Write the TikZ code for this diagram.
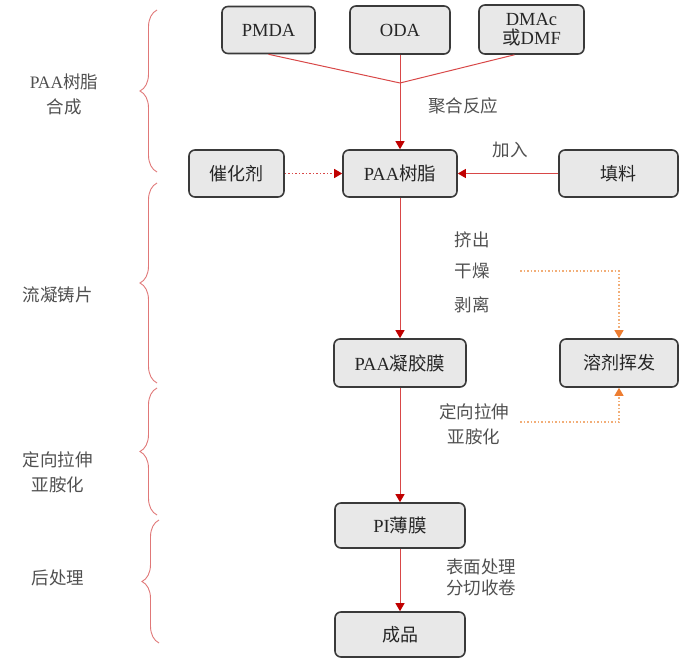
\documentclass[tikz,border=0pt]{standalone}
\usepackage{fontspec}
\setmainfont{Liberation Serif}
\newfontfamily\cjk{Noto Sans CJK SC}
\usetikzlibrary{arrows.meta,decorations.pathreplacing,calc}
\definecolor{boxline}{HTML}{3A3A3A}
\definecolor{boxfill}{HTML}{E8E8E8}
\definecolor{boxtext}{HTML}{262626}
\definecolor{lbltext}{HTML}{505050}
\definecolor{flowred}{HTML}{D84848}
\definecolor{headred}{HTML}{C00000}
\definecolor{dotorange}{HTML}{F2AE78}
\definecolor{headorange}{HTML}{ED7D31}
\definecolor{bracered}{HTML}{E07878}
\begin{document}
\begin{tikzpicture}[x=1pt,y=-1pt,
  box/.style={draw=boxline, fill=boxfill, line width=1.6pt, rounded corners=6pt,
    text=boxtext, font=\fontsize{18.5}{19}\selectfont, align=center, inner sep=0pt},
  cbox/.style={box, font=\fontsize{18}{19}\selectfont\cjk},
  lbl/.style={text=lbltext, font=\fontsize{17.5}{19}\selectfont\cjk, align=center, inner sep=0pt},
  flow/.style={draw=flowred, line width=1pt, -{Triangle[width=9pt,length=8pt,color=headred]}},
  plainline/.style={draw=flowred, line width=1pt},
  dotflow/.style={draw=flowred, line width=1.2pt, dash pattern=on 1.5pt off 2pt,
    -{Triangle[width=9pt,length=8pt,color=headred]}},
  orangeflow/.style={draw=dotorange, line width=1.2pt, dash pattern=on 1.5pt off 2pt,
    -{Triangle[width=9pt,length=8pt,color=headorange]}},
  bracestyle/.style={draw=bracered, line width=0.9pt, decorate,
    decoration={brace, amplitude=17pt}},
  sidelbl/.style={text=lbltext, font=\fontsize{17.5}{25}\selectfont, align=center, inner sep=0pt}
]
\useasboundingbox (0,0) rectangle (686,658);

% boxes
\node[box, minimum width=93pt, minimum height=47pt] (pmda) at (268.5,30) {PMDA};
\node[box, minimum width=100pt, minimum height=48pt] (oda) at (400,30) {ODA};
\node[box, minimum width=105pt, minimum height=49pt, font=\fontsize{18.5}{19}\selectfont] (dmac) at (531.5,29.5) {DMAc\\{\cjk 或}DMF};
\node[box, minimum width=114pt, minimum height=47pt] (paa) at (400,173.5) {PAA{\cjk 树脂}};
\node[cbox, minimum width=95pt, minimum height=47pt] (cat) at (236.5,173.5) {催化剂};
\node[cbox, minimum width=119pt, minimum height=47pt] (fill) at (618.5,173.5) {填料};
\node[box, minimum width=132pt, minimum height=48pt] (gel) at (400,363) {PAA{\cjk 凝胶膜}};
\node[cbox, minimum width=118pt, minimum height=48pt] (solv) at (619,363) {溶剂挥发};
\node[box, minimum width=130pt, minimum height=45pt] (pi) at (400,525.5) {PI{\cjk 薄膜}};
\node[cbox, minimum width=130pt, minimum height=45pt] (prod) at (400,634.5) {成品};

% junction
\coordinate (j) at (400,83);
\coordinate (dmacout) at ($(dmac.south west)!0.34!(dmac.south east)$);
\draw[plainline] (pmda.south) -- (j);
\draw[plainline] (oda.south) -- (j);
\draw[plainline] (dmacout) -- (j);
\draw[flow] (j) -- (paa.north);

% side inputs
\draw[dotflow] (cat.east) -- (paa.west);
\draw[flow] (fill.west) -- (paa.east);

% main flow
\draw[flow] (paa.south) -- (gel.north);
\draw[flow] (gel.south) -- (pi.north);
\draw[flow] (pi.south) -- (prod.north);

% labels
\node[lbl] (l1) at (463,106) {聚合反应};
\node[lbl] (l2) at (510,150) {加入};
\node[lbl] (l3) at (472,240) {挤出};
\node[lbl] (l4) at (472,271) {干燥};
\node[lbl] (l5) at (472,305) {剥离};
\node[lbl] (l6) at (474,412) {定向拉伸};
\node[lbl] (l7) at (474,437) {亚胺化};
\node[lbl] (l8) at (481,567) {表面处理};
\node[lbl] (l9) at (481,588) {分切收卷};

% solvent evaporation
\coordinate (o1) at (520,271);
\coordinate (o2) at (520,422);
\draw[orangeflow] (o1) -| (solv.north);
\draw[orangeflow] (o2) -| (solv.south);

% braces
\draw[bracestyle] (157,172) -- (157,10);
\draw[bracestyle] (157,383) -- (157,183);
\draw[bracestyle] (157,515) -- (157,388);
\draw[bracestyle] (159,643) -- (159,520);

% stage labels
\node[sidelbl] (s1) at (64,94) {PAA{\cjk 树脂}\\{\cjk 合成}};
\node[sidelbl, font=\fontsize{17.5}{19}\selectfont\cjk] (s2) at (58,295) {流凝铸片};
\node[sidelbl, font=\fontsize{17.5}{25}\selectfont\cjk] (s3) at (58,472) {定向拉伸\\亚胺化};
\node[sidelbl, font=\fontsize{17.5}{19}\selectfont\cjk] (s4) at (58,578) {后处理};
\end{tikzpicture}
\end{document}
